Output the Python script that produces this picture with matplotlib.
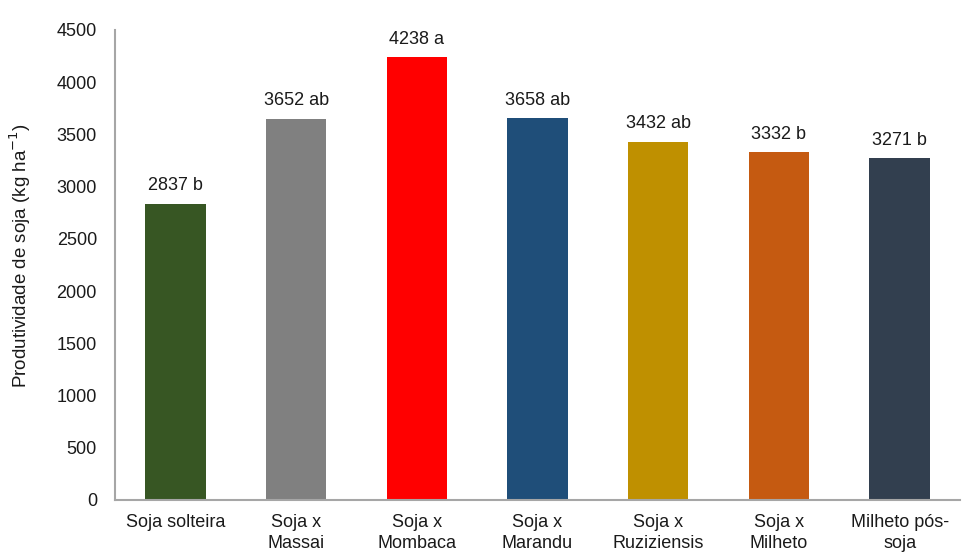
import matplotlib
matplotlib.use("Agg")
import matplotlib.pyplot as plt

categories = ["Soja solteira", "Soja x\nMassai", "Soja x\nMombaca", "Soja x\nMarandu",
              "Soja x\nRuziziensis", "Soja x\nMilheto", "Milheto pós-\nsoja"]
values = [2837, 3652, 4238, 3658, 3432, 3332, 3271]
letters = ["b", "ab", "a", "ab", "ab", "b", "b"]
colors = ["#375623", "#808080", "#FF0000", "#1F4E79", "#BF9000", "#C55A11", "#323F4F"]
yticks = [0, 500, 1000, 1500, 2000, 2500, 3000, 3500, 4000, 4500]

plt.rcParams['font.family'] = ['Liberation Sans', 'DejaVu Sans']
fs = 13
txtc = "#1a1a1a"

fig = plt.figure(figsize=(9.66, 5.56), dpi=100)
ax = fig.add_axes([115/966, 56/556, 845/966, 470/556])

x = range(len(categories))
ax.bar(x, values, width=0.5, color=colors, zorder=2)
for xi, v, l in zip(x, values, letters):
    ax.text(xi, v + 90, f"{v} {l}", ha="center", va="bottom", fontsize=fs, color=txtc)

ax.set_xlim(-0.5, len(categories) - 0.5)
ax.set_ylim(0, 4500)
ax.set_yticks(yticks)
ax.set_xticks(list(x))
ax.set_xticklabels(categories, fontsize=fs, color=txtc, linespacing=1.3)
ax.tick_params(axis="y", labelsize=fs, length=0, pad=13, colors=txtc)
ax.tick_params(axis="x", length=0, pad=10)
for s in ["top", "right"]:
    ax.spines[s].set_visible(False)
for s in ["left", "bottom"]:
    ax.spines[s].set_color("#a6a6a6")
    ax.spines[s].set_linewidth(1.5)
ax.set_ylabel("Produtividade de soja (kg ha$^{-1}$)", fontsize=13.5, color=txtc)
ax.yaxis.set_label_coords(-82/845, 0.52)

fig.savefig("out.png", dpi=100)
